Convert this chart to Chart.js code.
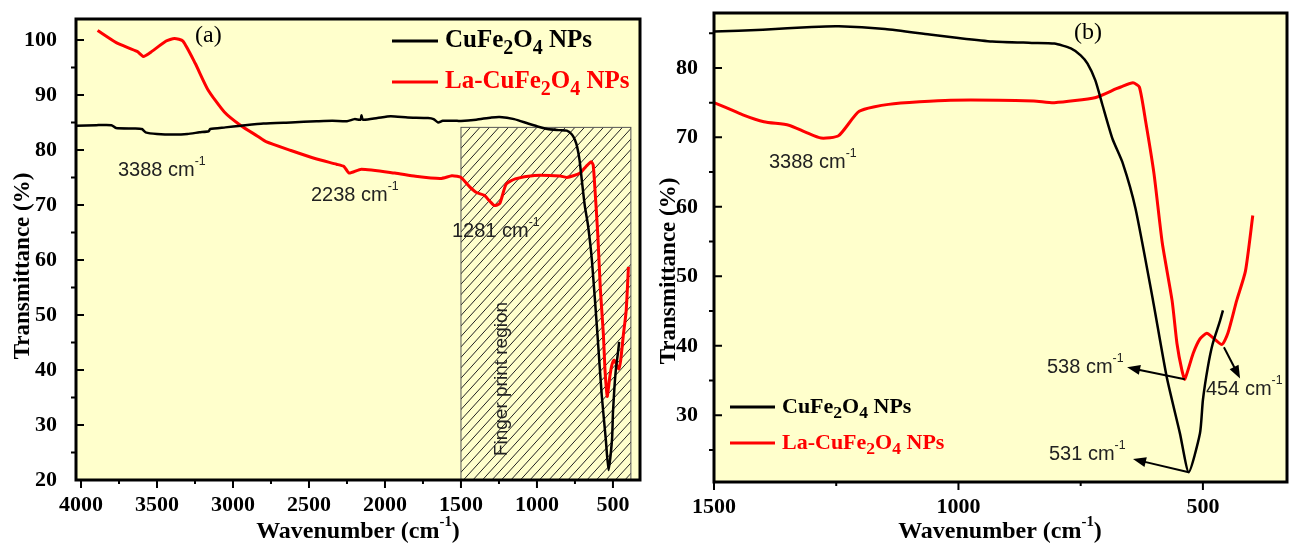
<!DOCTYPE html>
<html>
<head>
<meta charset="utf-8">
<script src="https://cdn.jsdelivr.net/npm/chart.js@4.4.1/dist/chart.umd.min.js"></script>
<style>
  html, body { margin: 0; padding: 0; background: #fff; }
  #wrap { position: relative; width: 1290px; height: 545px; }
  canvas { position: absolute; top: 0; }
  #chartA { left: 0; }
  #chartB { left: 645px; }
</style>
</head>
<body>
<div id="wrap">
  <canvas id="chartA" width="645" height="545"></canvas>
  <canvas id="chartB" width="645" height="545"></canvas>
</div>
<script>
// FTIR spectra, wavenumber (cm-1) vs transmittance (%)
const cuWave = [4030, 3900, 3800, 3770, 3650, 3600, 3575, 3500, 3385, 3300, 3221, 3160, 3150, 3050, 2947,
  2800, 2619, 2450, 2346, 2250, 2200, 2160, 2155, 2145, 2050, 1963, 1850, 1717, 1680, 1650, 1620, 1526,
  1500, 1400, 1300, 1245, 1150, 1059, 1000, 931, 850, 804, 770, 750, 736, 720, 706, 685, 664, 638,
  602, 574, 547, 529, 506, 500, 490, 480, 465, 459];
const cuTrans = [84.4, 84.5, 84.5, 84.0, 83.9, 83.8, 83.2, 82.9, 82.8, 82.9, 83.2, 83.4, 83.8, 84.1, 84.4,
  84.8, 85.0, 85.2, 85.3, 85.2, 85.6, 85.5, 86.3, 85.5, 85.8, 86.1, 85.9, 85.8, 85.6, 85.0, 85.3, 85.3,
  85.25, 85.5, 85.9, 86.0, 85.6, 84.8, 84.3, 83.8, 83.6, 83.5, 82.8, 81.8, 80.6, 78.2, 74.8, 69.8, 66.3, 59.8,
  46.5, 35.5, 27.4, 21.8, 27.4, 32.2, 36.9, 40.3, 43.6, 45.1];

const laWave = [3891, 3768, 3631, 3590, 3549, 3440, 3385, 3330, 3248, 3166, 3057, 2947, 2838, 2783, 2619,
  2455, 2319, 2270, 2236, 2155, 1936, 1799, 1635, 1560, 1526,
  1500, 1441, 1398, 1347, 1313, 1281, 1245, 1203, 1143, 1016, 846, 804, 719, 677, 668, 643, 630, 617,
  600, 583, 563, 553, 543, 537, 520, 506, 492, 480, 461, 449, 431, 413, 398];
const laTrans = [101.7, 99.5, 97.9, 97.0, 97.6, 99.8, 100.25, 99.8, 95.7, 91.0, 86.9, 84.4, 82.5, 81.5, 79.9,
  78.4, 77.4, 77.0, 75.8, 76.5, 75.8, 75.2, 74.8, 75.3, 75.2,
  75.0, 73.25, 72.25, 71.75, 70.75, 69.9, 70.25, 73.75, 74.75, 75.35, 75.25, 75.0, 75.75, 77.0, 77.25, 77.85, 77.25, 72.25,
  64.75, 54.75, 46.5, 40.3, 36.5, 35.2, 38.9, 41.0, 41.8, 41.2, 40.2, 41.8, 46.5, 50.75, 58.75];

// tick values
const xMajorA = [500, 1000, 1500, 2000, 2500, 3000, 3500, 4000];
const xMinorA = [750, 1250, 1750, 2250, 2750, 3250, 3750];
const yMajorA = [20, 30, 40, 50, 60, 70, 80, 90, 100];
const yMinorA = [25, 35, 45, 55, 65, 75, 85, 95];
const xMajorB = [500, 1000, 1500];
const xMinorB = [750, 1250];
const yMajorB = [30, 40, 50, 60, 70, 80];
const yMinorB = [25, 35, 45, 55, 65, 75, 85];

// finger print region (wavenumber from/to, upper transmittance)
const fingerRange = [1500, 382];
const fingerTop = 84.1;

// arrows in panel b: [tailX, tailY, headX, headY] in data units
const arrowsB = [
  [537, 35.2, 655, 36.9],
  [529, 21.8, 643, 23.7],
  [457, 39.8, 424, 35.3]
];

const SERIF = "'Liberation Serif', 'Times New Roman', serif";
const SANS = "'Liberation Sans', Arial, sans-serif";
const formula = [['CuFe', ''], ['2', 'sub'], ['O', ''], ['4', 'sub'], [' NPs', '']];
const laFormula = [['La-CuFe', ''], ['2', 'sub'], ['O', ''], ['4', 'sub'], [' NPs', '']];
const xTitle = [['Wavenumber (cm', ''], ['-1', 'sup'], [')', '']];
const cm = n => [[n + ' cm', ''], ['-1', 'sup']];

function points(xs, ys) {
  return xs.map((v, i) => ({ x: v, y: ys[i] }));
}

// draws text with sub/superscripts, vertically centred on y
function rich(ctx, parts, x, y, size, o) {
  const weight = o.bold ? 'bold ' : '';
  let w = 0;
  const pieces = parts.map(([t, k]) => {
    const s = k === 'sup' ? size * 0.62 : k === 'sub' ? size * 0.8 : size;
    ctx.font = weight + s + 'px ' + o.family;
    const pw = ctx.measureText(t).width;
    w += pw;
    return { t, k, s, pw };
  });
  let cx = o.align === 'center' ? x - w / 2 : x;
  ctx.fillStyle = o.color || '#000';
  ctx.textBaseline = 'middle';
  ctx.textAlign = 'left';
  pieces.forEach(p => {
    ctx.font = weight + p.s + 'px ' + o.family;
    const dy = p.k === 'sub' ? size * 0.3 : p.k === 'sup' ? -size * 0.4 : 0;
    ctx.fillText(p.t, cx, y + dy);
    cx += p.pw;
  });
}

function legendRow(ctx, x0, x1, y, color, parts, size) {
  ctx.strokeStyle = color;
  ctx.lineWidth = 3;
  ctx.beginPath();
  ctx.moveTo(x0, y);
  ctx.lineTo(x1, y);
  ctx.stroke();
  rich(ctx, parts, x1 + 7, y, size, { bold: true, family: SERIF, color: color });
}

function arrow(ctx, x0, y0, x1, y1) {
  const ang = Math.atan2(y1 - y0, x1 - x0);
  const L = 13, H = 5;
  ctx.beginPath();
  ctx.moveTo(x0, y0);
  ctx.lineTo(x1 - L * 0.6 * Math.cos(ang), y1 - L * 0.6 * Math.sin(ang));
  ctx.stroke();
  ctx.beginPath();
  ctx.moveTo(x1, y1);
  ctx.lineTo(x1 - L * Math.cos(ang) + H * Math.sin(ang), y1 - L * Math.sin(ang) - H * Math.cos(ang));
  ctx.lineTo(x1 - L * Math.cos(ang) - H * Math.sin(ang), y1 - L * Math.sin(ang) + H * Math.cos(ang));
  ctx.closePath();
  ctx.fill();
}

const framePlugin = {
  id: 'frame',
  beforeDraw(chart, args, o) {
    const { ctx, chartArea: a } = chart;
    ctx.save();
    ctx.fillStyle = '#ffffcc';
    ctx.fillRect(a.left, a.top, a.right - a.left, a.bottom - a.top);
    ctx.restore();
  },
  beforeDatasetsDraw(chart, args, o) {
    if (o.under) o.under(chart);
  },
  afterDraw(chart, args, o) {
    const { ctx, chartArea: a, scales: { x, y } } = chart;
    ctx.save();
    ctx.strokeStyle = '#000';
    ctx.lineWidth = 2;
    ctx.beginPath();
    o.xMajor.forEach(v => { const p = x.getPixelForValue(v); ctx.moveTo(p, a.bottom); ctx.lineTo(p, a.bottom + 8); });
    o.xMinor.forEach(v => { const p = x.getPixelForValue(v); ctx.moveTo(p, a.bottom); ctx.lineTo(p, a.bottom + 4); });
    o.yMajor.forEach(v => { const p = y.getPixelForValue(v); ctx.moveTo(a.left, p); ctx.lineTo(a.left + 8, p); });
    o.yMinor.forEach(v => { const p = y.getPixelForValue(v); ctx.moveTo(a.left, p); ctx.lineTo(a.left - 5, p); });
    ctx.stroke();
    ctx.lineWidth = 3;
    ctx.strokeRect(a.left, a.top, a.right - a.left, a.bottom - a.top);
    if (o.over) o.over(chart);
    ctx.restore();
  }
};

function makeChart(id, cfg) {
  const tickFont = { family: SERIF, size: 22, weight: 'bold' };
  return new Chart(document.getElementById(id), {
    type: 'line',
    data: {
      datasets: [
        { label: 'CuFe2O4 NPs', data: points(cuWave, cuTrans), borderColor: '#000', borderWidth: 2.5,
          pointRadius: 0, tension: 0.2, fill: false },
        { label: 'La-CuFe2O4 NPs', data: points(laWave, laTrans), borderColor: '#ff0000', borderWidth: 3,
          pointRadius: 0, tension: 0.2, fill: false }
      ]
    },
    options: {
      responsive: false,
      animation: false,
      devicePixelRatio: 1,
      layout: { padding: cfg.padding },
      plugins: {
        legend: { display: false },
        tooltip: { enabled: false },
        frame: cfg.frame
      },
      scales: {
        x: {
          type: 'linear', reverse: true, min: cfg.xRange[0], max: cfg.xRange[1],
          grid: { display: false }, border: { display: false },
          afterBuildTicks: s => { s.ticks = cfg.frame.xMajor.map(v => ({ value: v })); },
          afterFit: s => { s.height = cfg.xHeight; s.paddingLeft = 0; s.paddingRight = 0; },
          ticks: { autoSkip: false, maxRotation: 0, padding: 4, color: '#000', font: tickFont, callback: v => v }
        },
        y: {
          min: cfg.yRange[0], max: cfg.yRange[1],
          grid: { display: false }, border: { display: false },
          afterBuildTicks: s => { s.ticks = cfg.frame.yMajor.map(v => ({ value: v })); },
          afterFit: s => { s.width = cfg.yWidth; s.paddingTop = 0; s.paddingBottom = 0; },
          ticks: { autoSkip: false, padding: cfg.yPad, color: '#000', font: tickFont, callback: v => v }
        }
      }
    },
    plugins: [framePlugin]
  });
}

function yTitle(ctx, cx, cy) {
  ctx.save();
  ctx.translate(cx, cy);
  ctx.rotate(-Math.PI / 2);
  ctx.font = 'bold 23px ' + SERIF;
  ctx.fillStyle = '#000';
  ctx.textAlign = 'center';
  ctx.textBaseline = 'middle';
  ctx.fillText('Transmittance (%)', 0, 0);
  ctx.restore();
}

makeChart('chartA', {
  xRange: [322, 4033], yRange: [20, 103.8],
  padding: { left: 0, right: 5, top: 19, bottom: 0 },
  xHeight: 65, yWidth: 76, yPad: 11,
  frame: {
    xMajor: xMajorA, xMinor: xMinorA, yMajor: yMajorA, yMinor: yMinorA,
    under(chart) {
      const { ctx, chartArea: a, scales: { x, y } } = chart;
      const x0 = x.getPixelForValue(fingerRange[0]), x1 = x.getPixelForValue(fingerRange[1]);
      const y0 = y.getPixelForValue(fingerTop), y1 = a.bottom;
      ctx.save();
      ctx.beginPath();
      ctx.rect(x0, y0, x1 - x0, y1 - y0);
      ctx.clip();
      ctx.strokeStyle = '#222';
      ctx.lineWidth = 1;
      ctx.beginPath();
      const h = y1 - y0, k = 1.1;
      for (let s = x0 - h / k; s < x1 + 10; s += 9.5) {
        ctx.moveTo(s, y1);
        ctx.lineTo(s + h / k, y0);
      }
      ctx.stroke();
      ctx.restore();
      ctx.save();
      ctx.strokeStyle = '#555';
      ctx.lineWidth = 1;
      ctx.strokeRect(x0, y0, x1 - x0, y1 - y0);
      ctx.translate(502, 379);
      ctx.rotate(-Math.PI / 2);
      ctx.font = '19px ' + SANS;
      ctx.fillStyle = '#222';
      ctx.textAlign = 'center';
      ctx.textBaseline = 'middle';
      ctx.fillText('Finger print region', 0, 0);
      ctx.restore();
    },
    over(chart) {
      const ctx = chart.ctx;
      ctx.font = '24px ' + SERIF;
      ctx.fillStyle = '#000';
      ctx.textAlign = 'left';
      ctx.textBaseline = 'middle';
      ctx.fillText('(a)', 195, 36);
      rich(ctx, cm('3388'), 118, 170, 20, { family: SANS, color: '#222' });
      rich(ctx, cm('2238'), 311, 195, 20, { family: SANS, color: '#222' });
      rich(ctx, cm('1281'), 452, 231, 20, { family: SANS, color: '#222' });
      legendRow(ctx, 392, 438, 41, '#000', formula, 25);
      legendRow(ctx, 392, 438, 82, '#ff0000', laFormula, 25);
      yTitle(ctx, 23, 266);
      rich(ctx, xTitle, 358, 532, 24, { bold: true, family: SERIF, align: 'center' });
    }
  }
});

makeChart('chartB', {
  xRange: [328, 1500], yRange: [20.4, 87.9],
  padding: { left: 0, right: 3, top: 13, bottom: 0 },
  xHeight: 63, yWidth: 69, yPad: 8,
  frame: {
    xMajor: xMajorB, xMinor: xMinorB, yMajor: yMajorB, yMinor: yMinorB,
    over(chart) {
      const { ctx, chartArea: a, scales: { x, y } } = chart;
      ctx.font = '24px ' + SERIF;
      ctx.fillStyle = '#000';
      ctx.textAlign = 'left';
      ctx.textBaseline = 'middle';
      ctx.fillText('(b)', 429, 33);
      rich(ctx, cm('3388'), 124, 162, 20, { family: SANS, color: '#222' });
      rich(ctx, cm('538'), 402, 367, 20, { family: SANS, color: '#222' });
      rich(ctx, cm('531'), 404, 454, 20, { family: SANS, color: '#222' });
      ctx.save();
      ctx.beginPath();
      ctx.rect(a.left, a.top, a.right - a.left, a.bottom - a.top);
      ctx.clip();
      rich(ctx, cm('454'), 561, 389, 20, { family: SANS, color: '#222' });
      ctx.restore();
      ctx.strokeStyle = '#000';
      ctx.fillStyle = '#000';
      ctx.lineWidth = 2;
      arrowsB.forEach(([tx, ty, hx, hy]) => {
        arrow(ctx, x.getPixelForValue(tx), y.getPixelForValue(ty), x.getPixelForValue(hx), y.getPixelForValue(hy));
      });
      legendRow(ctx, 85, 130, 407, '#000', formula, 22);
      legendRow(ctx, 85, 130, 443, '#ff0000', laFormula, 22);
      yTitle(ctx, 24, 271);
      rich(ctx, xTitle, 355, 532, 24, { bold: true, family: SERIF, align: 'center' });
    }
  }
});
</script>
</body>
</html>
